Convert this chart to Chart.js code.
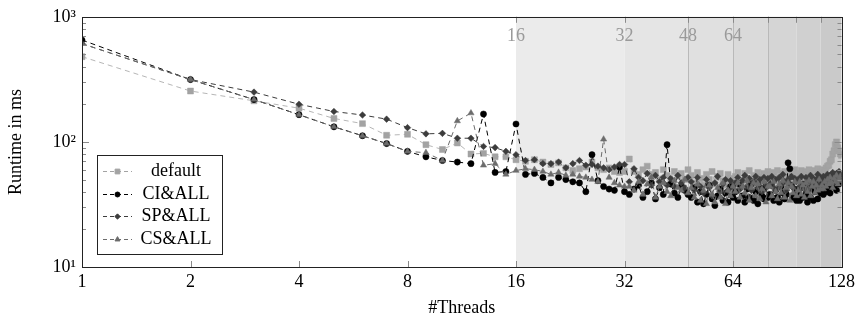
<!DOCTYPE html>
<html lang="en">
<head>
    <meta charset="UTF-8">
    <title>Runtime vs. threads</title>
    <style>
        html, body { margin: 0; padding: 0; background: #fff; }
        #wrap { width: 859px; height: 320px; }
    </style>
</head>
<body>
    <div id="wrap"><canvas id="runtimeChart"></canvas></div>

    <script src="https://cdn.jsdelivr.net/npm/chart.js"></script>
    <script>
        // thread counts on the x axis
        const threads = [
            1, 2, 3, 4, 5, 6, 7, 8, 9, 10, 11, 12, 13, 14, 15, 16,
            17, 18, 19, 20, 21, 22, 23, 24, 25, 26, 27, 28, 29, 30, 31, 32,
            33, 34, 35, 36, 37, 38, 39, 40, 41, 42, 43, 44, 45, 46, 47, 48,
            49, 50, 51, 52, 53, 54, 55, 56, 57, 58, 59, 60, 61, 62, 63, 64,
            65, 66, 67, 68, 69, 70, 71, 72, 73, 74, 75, 76, 77, 78, 79, 80,
            81, 82, 83, 84, 85, 86, 87, 88, 89, 90, 91, 92, 93, 94, 95, 96,
            97, 98, 99, 100, 101, 102, 103, 104, 105, 106, 107, 108, 109, 110, 111, 112,
            113, 114, 115, 116, 117, 118, 119, 120, 121, 122, 123, 124, 125, 126, 127, 128
        ];

        // runtime in ms, one value per thread count
        const defaultRuntime = [
            480, 255, 213, 186, 154, 140, 113, 115, 95, 87, 98, 80, 81, 76, 76, 72,
            70, 72, 69, 66, 68, 62, 59, 61, 63, 69, 62, 60, 62, 58, 57, 58,
            73, 58, 55, 60, 64, 55, 57, 50, 60, 54, 48, 58, 53, 56, 50, 60,
            54, 47, 57, 51, 45, 55, 50, 58, 46, 53, 56, 49, 45, 55, 51, 48,
            53, 57, 49, 46, 56, 51, 59, 47, 54, 49, 57, 52, 46, 56, 50, 58,
            54, 48, 57, 50, 59, 52, 47, 56, 58, 50, 54, 48, 57, 52, 60, 54,
            56, 50, 59, 53, 48, 58, 54, 60, 50, 56, 52, 59, 51, 61, 55, 57,
            58, 60, 57, 62, 64, 65, 70, 72, 80, 85, 95, 100, 90, 85, 80, 78
        ];
        const ciAllRuntime = [
            652, 315, 218, 165, 132, 112, 97, 84, 76, 71, 69, 67, 167, 57, 58, 139,
            55, 56, 52, 47, 52, 50, 48, 47, 40, 79, 49, 44, 42, 41, 63, 40,
            38, 42, 45, 36, 40, 47, 35, 43, 38, 95, 46, 39, 36, 44, 41, 38,
            36, 43, 33, 40, 32, 38, 45, 35, 31, 37, 42, 34, 39, 33, 44, 36,
            40, 34, 45, 37, 33, 42, 36, 46, 34, 40, 32, 43, 37, 35, 44, 36,
            38, 45, 34, 41, 36, 33, 44, 39, 35, 38, 68, 61, 45, 36, 42, 34,
            40, 34, 43, 36, 46, 38, 33, 42, 36, 45, 34, 40, 44, 35, 47, 39,
            42, 38, 45, 40, 47, 43, 39, 52, 55, 44, 50, 41, 55, 46, 53, 51
        ];
        const spAllRuntime = [
            610, 315, 250, 200, 175, 164, 152, 130, 116, 117, 107, 107, 92, 90, 84, 79,
            71, 72, 67, 67, 69, 62, 67, 71, 65, 66, 64, 62, 60, 63, 66, 66,
            48, 61, 52, 49, 56, 45, 54, 48, 52, 45, 51, 44, 54, 47, 43, 52,
            48, 41, 52, 44, 39, 50, 43, 37, 47, 53, 40, 46, 50, 41, 49, 44,
            47, 52, 42, 49, 54, 44, 51, 41, 48, 53, 43, 50, 40, 52, 45, 51,
            46, 53, 43, 50, 42, 52, 45, 55, 48, 41, 50, 46, 53, 43, 51, 48,
            50, 44, 53, 46, 42, 52, 48, 43, 54, 46, 51, 44, 50, 55, 46, 52,
            50, 53, 48, 52, 55, 49, 54, 51, 57, 53, 50, 56, 52, 58, 55, 54
        ];
        const csAllRuntime = [
            610, 315, 218, 165, 132, 112, 97, 84, 82, 71, 147, 170, 65, 67, 55, 59,
            61, 60, 58, 55, 57, 54, 55, 53, 52, 50, 48, 105, 52, 47, 45, 44,
            44, 41, 48, 38, 46, 52, 36, 44, 47, 40, 37, 49, 43, 41, 50, 39,
            43, 36, 46, 34, 41, 32, 45, 38, 33, 43, 36, 47, 32, 41, 37, 44,
            40, 47, 36, 44, 39, 49, 34, 43, 47, 37, 46, 35, 42, 48, 33, 44,
            44, 37, 48, 40, 35, 46, 39, 49, 36, 43, 47, 34, 44, 39, 48, 37,
            41, 48, 38, 45, 36, 47, 40, 49, 37, 44, 48, 39, 45, 41, 50, 42,
            45, 42, 48, 44, 50, 46, 52, 47, 43, 51, 48, 54, 46, 50, 53, 49
        ];

        const seriesNames = ['default', 'CI&ALL', 'SP&ALL', 'CS&ALL'];
        const xTicks = [1, 2, 4, 8, 16, 32, 64, 128];
        const yTicks = [10, 100, 1000];
        const yTickLabels = ['10\u00B9', '10\u00B2', '10\u00B3'];
        // shaded thread ranges and the numbers written along the top
        const bandEdges = [16, 32, 48, 64, 80, 96, 112, 128];
        const bandLabels = [16, 32, 48, 64];
        const bandLines = [48, 64, 80];

        const bandColors = ['#ebebeb', '#e5e5e5', '#e0e0e0', '#dadada', '#d5d5d5', '#d0d0d0', '#cacaca'];
        const serif = "'Liberation Serif', 'Times New Roman', serif";

        const styles = [
            { color: '#a3a3a3', point: 'rect', radius: 4.2, order: 4 },
            { color: '#000000', point: 'circle', radius: 3.1, order: 3 },
            { color: '#3c3c3c', point: 'rectRot', radius: 3.3, order: 2 },
            { color: '#6c6c6c', point: 'triangle', radius: 3.6, order: 1 }
        ];
        const allSeries = [defaultRuntime, ciAllRuntime, spAllRuntime, csAllRuntime];

        const datasets = allSeries.map((values, i) => ({
            label: seriesNames[i],
            data: threads.map((t, k) => ({ x: t, y: values[k] })),
            borderColor: styles[i].color,
            backgroundColor: styles[i].color,
            pointBackgroundColor: styles[i].color,
            pointBorderColor: styles[i].color,
            pointBorderWidth: 0.5,
            pointStyle: styles[i].point,
            pointRadius: styles[i].radius,
            borderWidth: i === 0 ? 0.8 : 1,
            borderDash: [5, 4],
            tension: 0,
            order: styles[i].order
        }));

        function hline(ctx, x0, y0, x1, y1) {
            ctx.beginPath();
            ctx.moveTo(x0, y0);
            ctx.lineTo(x1, y1);
            ctx.stroke();
        }

        // bands, separators, ticks, frame and the boxed legend
        const decorPlugin = {
            id: 'decor',
            beforeDatasetsDraw(chart) {
                const { ctx, chartArea: a, scales: { x } } = chart;
                ctx.save();
                for (let i = 0; i < bandEdges.length - 1; i++) {
                    const x0 = x.getPixelForValue(bandEdges[i]);
                    const x1 = x.getPixelForValue(bandEdges[i + 1]);
                    ctx.fillStyle = bandColors[i];
                    ctx.fillRect(x0, a.top, x1 - x0, a.bottom - a.top);
                }
                ctx.strokeStyle = '#b9b9b9';
                ctx.lineWidth = 1;
                bandLines.forEach(v => {
                    const px = Math.round(x.getPixelForValue(v)) + 0.5;
                    hline(ctx, px, a.top, px, a.bottom);
                });
                ctx.fillStyle = '#9a9a9a';
                ctx.font = '18px ' + serif;
                ctx.textAlign = 'center';
                ctx.textBaseline = 'middle';
                bandLabels.forEach(v => ctx.fillText(String(v), x.getPixelForValue(v), a.top + 19));
                ctx.restore();
            },
            afterDraw(chart) {
                const { ctx, chartArea: a, scales: { x, y } } = chart;
                ctx.save();
                ctx.lineWidth = 1;

                // tick marks
                ctx.strokeStyle = '#8a8a8a';
                bandEdges.slice(0, -1).forEach(v => {
                    const px = Math.round(x.getPixelForValue(v)) + 0.5;
                    hline(ctx, px, a.top, px, a.top + 6);
                });
                xTicks.slice(1, -1).forEach(v => {
                    const px = Math.round(x.getPixelForValue(v)) + 0.5;
                    hline(ctx, px, a.bottom, px, a.bottom - 6);
                });
                [10, 100].forEach(dec => {
                    for (let k = 2; k <= 9; k++) {
                        const py = Math.round(y.getPixelForValue(dec * k)) + 0.5;
                        hline(ctx, a.left, py, a.left + 4, py);
                        hline(ctx, a.right, py, a.right - 4, py);
                    }
                });
                const p100 = Math.round(y.getPixelForValue(100)) + 0.5;
                hline(ctx, a.left, p100, a.left + 7, p100);
                hline(ctx, a.right, p100, a.right - 7, p100);

                // frame
                ctx.strokeStyle = '#222';
                ctx.strokeRect(Math.round(a.left) + 0.5, Math.round(a.top) + 0.5,
                    Math.round(a.right - a.left), Math.round(a.bottom - a.top));

                // legend
                const lx = 97, ly = 155, lw = 125, lh = 99;
                ctx.fillStyle = '#fff';
                ctx.fillRect(lx, ly, lw, lh);
                ctx.strokeStyle = '#222';
                ctx.strokeRect(lx + 0.5, ly + 0.5, lw, lh);
                ctx.font = '18px ' + serif;
                ctx.textAlign = 'center';
                ctx.textBaseline = 'middle';
                chart.data.datasets.forEach((ds, i) => {
                    const cy = Math.round(171 + i * 22.7) + 0.5;
                    ctx.strokeStyle = ds.borderColor;
                    ctx.setLineDash([4, 3]);
                    hline(ctx, 103, cy, 132, cy);
                    ctx.setLineDash([]);
                    ctx.fillStyle = ds.borderColor;
                    Chart.helpers.drawPoint(ctx, {
                        pointStyle: ds.pointStyle, radius: ds.pointRadius * 0.8, borderWidth: 0.5, rotation: 0
                    }, 117.5, cy);
                    ctx.fillStyle = '#000';
                    ctx.fillText(ds.label, 176, cy);
                });
                ctx.restore();
            }
        };

        const tickFont = { family: serif, size: 18 };

        new Chart(document.getElementById('runtimeChart'), {
            type: 'line',
            data: { datasets: datasets },
            plugins: [decorPlugin],
            options: {
                responsive: true,
                maintainAspectRatio: false,
                devicePixelRatio: 1,
                animation: false,
                layout: { padding: { top: 16, right: 15, left: 0, bottom: 0 } },
                plugins: {
                    legend: { display: false },
                    tooltip: { enabled: false }
                },
                scales: {
                    x: {
                        type: 'logarithmic',
                        min: 1,
                        max: 128,
                        afterBuildTicks: s => { s.ticks = xTicks.map(v => ({ value: v })); },
                        afterFit: s => { s.height = 53; },
                        grid: { display: false, drawTicks: false },
                        border: { display: false },
                        ticks: {
                            color: '#000',
                            font: tickFont,
                            padding: 4,
                            maxRotation: 0,
                            autoSkip: false,
                            callback: v => String(v)
                        },
                        title: {
                            display: true,
                            text: '#Threads',
                            color: '#000',
                            font: tickFont,
                            padding: { top: 0, bottom: 1 }
                        }
                    },
                    y: {
                        type: 'logarithmic',
                        min: 10,
                        max: 1000,
                        afterBuildTicks: s => { s.ticks = yTicks.map(v => ({ value: v })); },
                        afterFit: s => { s.width = 82; },
                        grid: { display: false, drawTicks: false },
                        border: { display: false },
                        ticks: {
                            color: '#000',
                            font: tickFont,
                            padding: 6,
                            autoSkip: false,
                            callback: (v, i) => yTickLabels[i]
                        },
                        title: {
                            display: true,
                            text: 'Runtime in ms',
                            color: '#000',
                            font: tickFont,
                            padding: { top: 5, bottom: 0 }
                        }
                    }
                }
            }
        });
    </script>
</body>
</html>
